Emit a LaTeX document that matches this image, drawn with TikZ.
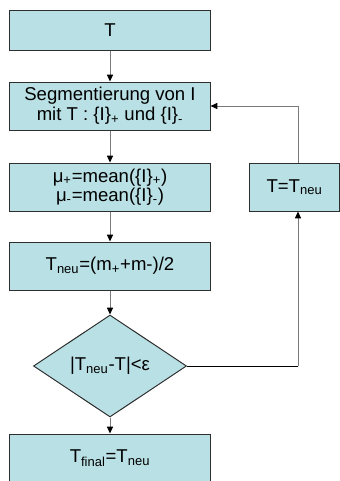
\documentclass[tikz,border=0pt]{standalone}
\usepackage{fontspec}
\setmainfont{Liberation Sans}
\usetikzlibrary{arrows.meta,shapes.geometric}
\definecolor{boxfill}{HTML}{B9E0E4}
\definecolor{boxline}{HTML}{2E2E2E}
\definecolor{linkgray}{HTML}{7A7A7A}

\begin{document}
\begin{tikzpicture}[
  x=0.025cm,y=-0.025cm,
  line width=0.7pt,
  >={Triangle[length=1.7mm,width=1.5mm,color=black]},
  every node/.style={font=\fontsize{13.2}{14.5}\selectfont},
  stage/.style={draw=boxline,fill=boxfill,minimum width=5cm,
    minimum height=1.2cm,inner sep=2pt,align=center},
  check/.style={draw=boxline,fill=boxfill,diamond,minimum width=3.825cm,
    minimum height=2.55cm,inner sep=0pt},
  link/.style={draw=linkgray,->}
]
\clip (0,0) rectangle (340,481);

\node[stage,minimum height=1cm] (start) at (110,30) {T};
\node[stage] (seg) at (110,106)
  {Segmentierung von I\\mit T : \{I\}\textsubscript{+} und \{I\}\textsubscript{-}};
\node[stage,font=\fontsize{13.2}{13.5}\selectfont] (means) at (110,187)
  {μ\textsubscript{+}=mean(\{I\}\textsubscript{+})\\μ\textsubscript{-}=mean(\{I\}\textsubscript{-})};
\node[stage] (tneu) at (110,266)
  {T\textsubscript{neu}=(m\textsubscript{+}+m-)/2};
\node[check] (test) at (110,366) {|T\textsubscript{neu}-T|<ε};
\node[stage] (final) at (110,458)
  {T\textsubscript{final}=T\textsubscript{neu}};
\node[stage,minimum width=2.25cm] (update) at (294.5,187)
  {T=T\textsubscript{neu}};

% main chain
\draw[link] (start) -- (seg);
\draw[link] (seg) -- (means);
\draw[link] (means) -- (tneu);
\draw[link] (tneu) -- (test);
\draw[link] (test) -- (final);

% loop back
\coordinate (turn) at (298,366);
\coordinate (back) at (298,106);
\draw (test.east) -- (turn);
\draw[link] (turn) -- (update.south -| turn);
\draw[link] (update.north -| turn) -- (back) -- (seg.east);

\end{tikzpicture}
\end{document}
